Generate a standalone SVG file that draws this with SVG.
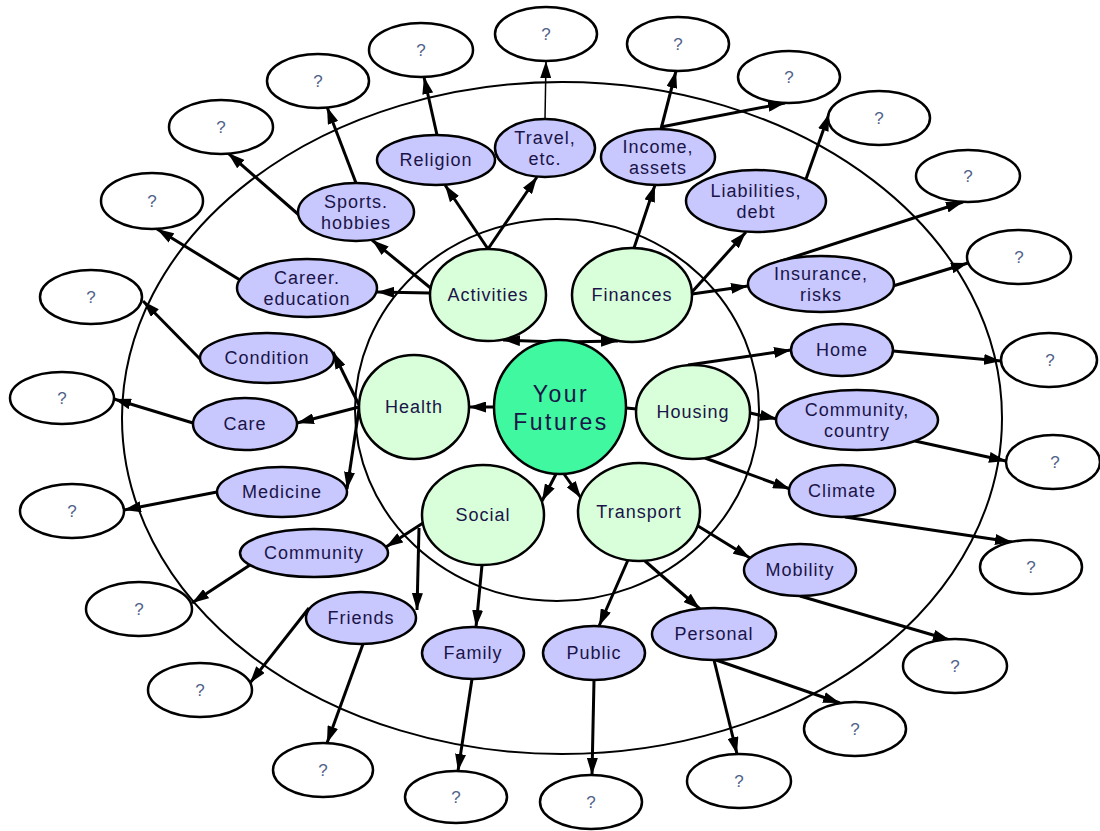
<svg xmlns="http://www.w3.org/2000/svg" width="1100" height="831" viewBox="0 0 1100 831">
<defs>
<marker id="ah" markerUnits="userSpaceOnUse" markerWidth="17" markerHeight="11" refX="17" refY="5.5" orient="auto"><path d="M0,0 L17,5.5 L0,11 z" fill="#000"/></marker>
<style>
.ring{fill:none;stroke:#000;stroke-width:2}
.e{stroke:#000;stroke-width:3;fill:none;marker-end:url(#ah)}
.thin{stroke-width:1.5}
.q ellipse{fill:#fff;stroke:#000;stroke-width:2.5}
.b ellipse{fill:#c8c8ff;stroke:#000;stroke-width:2.5}
.g ellipse{fill:#d8ffda;stroke:#000;stroke-width:2.5}
.c ellipse{fill:#3ff8a0;stroke:#000;stroke-width:2.5}
text{font-family:"Liberation Sans",Arial,sans-serif;text-anchor:middle}
.b text,.g text{font-size:18px;letter-spacing:1px;fill:#1a1448}
.c text{font-size:23px;letter-spacing:2.5px;fill:#1a1448}
.q text{font-size:17px;fill:#50628a}
</style>
</defs>
<g id="rings">
<ellipse class="ring" cx="562" cy="418" rx="440" ry="336"/>
<ellipse class="ring" cx="557" cy="410" rx="202" ry="191"/>
</g>
<g id="connectors">
<path class="e" d="M557,342 L503,340"/>
<path class="e" d="M563,342 L618,341"/>
<path class="e" d="M494,407 L469,407"/>
<path d="M626,408 L637,409" stroke="#000" stroke-width="3"/>
<path class="e" d="M556,474 L542,501"/>
<path class="e" d="M564,474 L581,498"/>
<path class="e" d="M488,249 L445,185"/>
<path class="e" d="M488,249 L537,177"/>
<path class="e" d="M433,290 L372,240"/>
<path class="e" d="M430,293 L377,292"/>
<path class="e" d="M356,183 L327,107"/>
<path class="e" d="M299,215 L228,153"/>
<path class="e" d="M240,280 L157,229"/>
<path class="e" d="M437,135 L424,77"/>
<path class="e thin" d="M545,119 L546,61"/>
<path class="e" d="M661,129 L676,71"/>
<path class="e" d="M661,127 L785,103"/>
<path class="e" d="M634,248 L655,185"/>
<path class="e" d="M692,292 L746,232"/>
<path class="e" d="M692,294 L748,286"/>
<path class="e" d="M806,179 L829,114"/>
<path class="e" d="M772,264 L963,202"/>
<path class="e" d="M893,286 L968,263"/>
<path class="e" d="M688,365 L791,350"/>
<path class="e" d="M750,413 L777,419"/>
<path class="e" d="M705,458 L790,489"/>
<path class="e" d="M893,351 L1001,361"/>
<path class="e" d="M915,441 L1006,461"/>
<path class="e" d="M845,517 L1012,542"/>
<path class="e" d="M698,526 L750,558"/>
<path class="e" d="M628,560 L599,626"/>
<path class="e" d="M645,561 L700,609"/>
<path class="e" d="M800,596 L950,640"/>
<path class="e" d="M716,660 L840,703"/>
<path class="e" d="M714,660 L737,754"/>
<path class="e" d="M594,680 L592,775"/>
<path class="e" d="M472,679 L458,771"/>
<path class="e" d="M482,565 L476,627"/>
<path class="e" d="M419,528 L417,610"/>
<path class="e" d="M423,523 L386,547"/>
<path class="e" d="M250,565 L192,603"/>
<path class="e" d="M309,608 L250,683"/>
<path class="e" d="M363,644 L327,743"/>
<path class="e" d="M359,407 L297,423"/>
<path class="e" d="M359,405 L333,352"/>
<path class="e" d="M359,409 L347,489"/>
<path class="e" d="M217,492 L124,510"/>
<path class="e" d="M193,423 L114,399"/>
<path class="e" d="M201,360 L143,301"/>
</g>
<g id="center" class="c"><ellipse cx="560" cy="407" rx="66" ry="67"/><text x="561" y="402">Your</text><text x="561" y="430">Futures</text></g>
<g id="activities" class="g"><ellipse cx="488" cy="295" rx="58" ry="46"/><text x="488" y="301">Activities</text></g>
<g id="finances" class="g"><ellipse cx="632" cy="295" rx="60" ry="47"/><text x="632" y="301">Finances</text></g>
<g id="health" class="g"><ellipse cx="414" cy="407" rx="55" ry="52"/><text x="414" y="413">Health</text></g>
<g id="housing" class="g"><ellipse cx="693" cy="412" rx="57" ry="47"/><text x="693" y="418">Housing</text></g>
<g id="social" class="g"><ellipse cx="483" cy="515" rx="61" ry="50"/><text x="483" y="521">Social</text></g>
<g id="transport" class="g"><ellipse cx="639" cy="512" rx="61" ry="49"/><text x="639" y="518">Transport</text></g>
<g id="religion" class="b"><ellipse cx="436" cy="160" rx="59" ry="25"/><text x="436" y="166">Religion</text></g>
<g id="travel" class="b"><ellipse cx="545" cy="148" rx="50" ry="29"/><text x="545" y="144">Travel,</text><text x="545" y="165">etc.</text></g>
<g id="income" class="b"><ellipse cx="658" cy="157" rx="57" ry="28"/><text x="658" y="153">Income,</text><text x="658" y="174">assets</text></g>
<g id="liabilities" class="b"><ellipse cx="756" cy="201" rx="70" ry="31"/><text x="756" y="197">Liabilities,</text><text x="756" y="218">debt</text></g>
<g id="insurance" class="b"><ellipse cx="821" cy="284" rx="73" ry="28"/><text x="821" y="280">Insurance,</text><text x="821" y="301">risks</text></g>
<g id="home" class="b"><ellipse cx="842" cy="350" rx="51" ry="26"/><text x="842" y="356">Home</text></g>
<g id="community-country" class="b"><ellipse cx="857" cy="420" rx="81" ry="30"/><text x="857" y="416">Community,</text><text x="857" y="437">country</text></g>
<g id="climate" class="b"><ellipse cx="842" cy="491" rx="53" ry="26"/><text x="842" y="497">Climate</text></g>
<g id="mobility" class="b"><ellipse cx="800" cy="570" rx="56" ry="26"/><text x="800" y="576">Mobility</text></g>
<g id="personal" class="b"><ellipse cx="714" cy="634" rx="62" ry="26"/><text x="714" y="640">Personal</text></g>
<g id="public" class="b"><ellipse cx="594" cy="653" rx="51" ry="27"/><text x="594" y="659">Public</text></g>
<g id="family" class="b"><ellipse cx="473" cy="653" rx="51" ry="26"/><text x="473" y="659">Family</text></g>
<g id="friends" class="b"><ellipse cx="361" cy="618" rx="55" ry="26"/><text x="361" y="624">Friends</text></g>
<g id="community" class="b"><ellipse cx="314" cy="553" rx="74" ry="24"/><text x="314" y="559">Community</text></g>
<g id="medicine" class="b"><ellipse cx="282" cy="492" rx="65" ry="25"/><text x="282" y="498">Medicine</text></g>
<g id="care" class="b"><ellipse cx="245" cy="424" rx="52" ry="26"/><text x="245" y="430">Care</text></g>
<g id="condition" class="b"><ellipse cx="267" cy="358" rx="67" ry="25"/><text x="267" y="364">Condition</text></g>
<g id="career" class="b"><ellipse cx="307" cy="288" rx="70" ry="29"/><text x="307" y="284">Career.</text><text x="307" y="305">education</text></g>
<g id="sports" class="b"><ellipse cx="356" cy="212" rx="58" ry="29"/><text x="356" y="208">Sports.</text><text x="356" y="229">hobbies</text></g>
<g id="q1" class="q"><ellipse cx="318" cy="81" rx="51" ry="27"/><text x="318" y="87">?</text></g>
<g id="q2" class="q"><ellipse cx="221" cy="127" rx="52" ry="27"/><text x="221" y="133">?</text></g>
<g id="q3" class="q"><ellipse cx="152" cy="201" rx="51" ry="28"/><text x="152" y="207">?</text></g>
<g id="q4" class="q"><ellipse cx="91" cy="297" rx="51" ry="27"/><text x="91" y="303">?</text></g>
<g id="q5" class="q"><ellipse cx="62" cy="398" rx="52" ry="26"/><text x="62" y="404">?</text></g>
<g id="q6" class="q"><ellipse cx="72" cy="511" rx="52" ry="27"/><text x="72" y="517">?</text></g>
<g id="q7" class="q"><ellipse cx="139" cy="609" rx="53" ry="27"/><text x="139" y="615">?</text></g>
<g id="q8" class="q"><ellipse cx="200" cy="690" rx="52" ry="27"/><text x="200" y="696">?</text></g>
<g id="q9" class="q"><ellipse cx="323" cy="770" rx="50" ry="27"/><text x="323" y="776">?</text></g>
<g id="q10" class="q"><ellipse cx="456" cy="797" rx="51" ry="26"/><text x="456" y="803">?</text></g>
<g id="q11" class="q"><ellipse cx="591" cy="802" rx="51" ry="27"/><text x="591" y="808">?</text></g>
<g id="q12" class="q"><ellipse cx="739" cy="781" rx="52" ry="27"/><text x="739" y="787">?</text></g>
<g id="q13" class="q"><ellipse cx="855" cy="729" rx="51" ry="27"/><text x="855" y="735">?</text></g>
<g id="q14" class="q"><ellipse cx="955" cy="666" rx="52" ry="27"/><text x="955" y="672">?</text></g>
<g id="q15" class="q"><ellipse cx="1031" cy="567" rx="51" ry="27"/><text x="1031" y="573">?</text></g>
<g id="q16" class="q"><ellipse cx="1053" cy="462" rx="47" ry="27"/><text x="1055" y="468">?</text></g>
<g id="q17" class="q"><ellipse cx="1049" cy="360" rx="48" ry="27"/><text x="1050" y="366">?</text></g>
<g id="q18" class="q"><ellipse cx="1019" cy="257" rx="52" ry="27"/><text x="1019" y="263">?</text></g>
<g id="q19" class="q"><ellipse cx="968" cy="176" rx="52" ry="26"/><text x="968" y="182">?</text></g>
<g id="q20" class="q"><ellipse cx="879" cy="118" rx="51" ry="27"/><text x="879" y="124">?</text></g>
<g id="q21" class="q"><ellipse cx="789" cy="77" rx="51" ry="26"/><text x="789" y="83">?</text></g>
<g id="q22" class="q"><ellipse cx="678" cy="44" rx="51" ry="27"/><text x="678" y="50">?</text></g>
<g id="q23" class="q"><ellipse cx="546" cy="34" rx="51" ry="27"/><text x="546" y="40">?</text></g>
<g id="q24" class="q"><ellipse cx="421" cy="50" rx="52" ry="27"/><text x="421" y="56">?</text></g>
</svg>
